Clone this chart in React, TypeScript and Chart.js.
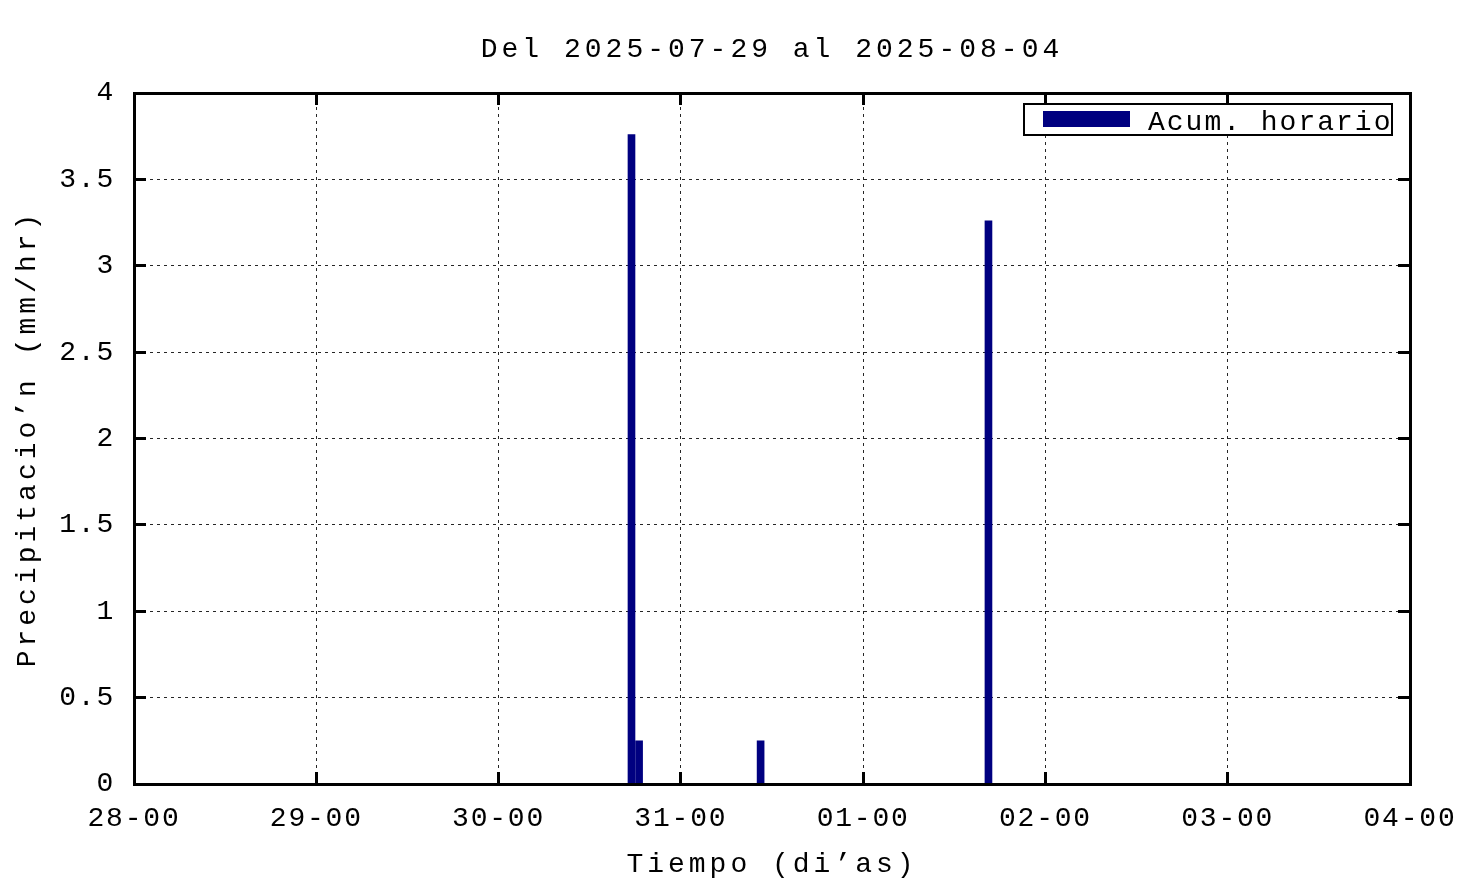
import React, { useEffect, useRef } from "react";
import { Chart, registerables } from "chart.js";

Chart.register(...registerables);

// ---- data ----
const chartTitle = "Del 2025-07-29 al 2025-08-04";
const xAxisTitle = "Tiempo (di’as)";
const yAxisTitle = "Precipitacio’n (mm/hr)";
const seriesLabel = "Acum. horario";
// hours since 28-00
const rainHours = [65.5, 66.5, 82.5, 112.5];
const rainValues = [3.76, 0.25, 0.25, 3.26];
const xTickLabels = ["28-00", "29-00", "30-00", "31-00", "01-00", "02-00", "03-00", "04-00"];
const yTickLabels = ["0", "0.5", "1", "1.5", "2", "2.5", "3", "3.5", "4"];
const xMin = 0;
const xMax = 168;
const xStep = 24;
const yMin = 0;
const yMax = 4;
const yStep = 0.5;

const FONT = "'Liberation Mono', 'DejaVu Sans Mono', monospace";
const NAVY = "#000080";

const spacingPlugin = {
  id: "gnuSpacing",
  beforeDraw(chart: any) {
    chart.ctx.letterSpacing = "4px";
  },
  afterDatasetsDraw(chart: any) {
    chart.ctx.letterSpacing = "1.8px";
  },
  afterDraw(chart: any) {
    const ctx = chart.ctx;
    const area = chart.chartArea;
    const ds = chart.data.datasets[0];
    ctx.save();
    const bx = area.right - 386;
    const by = area.top + 11;
    const bw = 368;
    const bh = 31;
    ctx.fillStyle = "#fff";
    ctx.fillRect(bx, by, bw, bh);
    ctx.lineWidth = 2;
    ctx.strokeStyle = "#000";
    ctx.strokeRect(bx, by, bw, bh);
    ctx.fillStyle = ds.backgroundColor;
    ctx.fillRect(bx + 19, by + 7, 87, 16);
    ctx.letterSpacing = "2px";
    ctx.font = `28px ${FONT}`;
    ctx.fillStyle = "#000";
    ctx.textAlign = "left";
    ctx.textBaseline = "alphabetic";
    ctx.fillText(ds.label, bx + 124, by + 26);
    ctx.restore();
    ctx.letterSpacing = "0px";
  },
};

export default function App() {
  const ref = useRef<HTMLCanvasElement>(null);
  useEffect(() => {
    document.body.style.margin = "0";
    const canvas = ref.current;
    if (!canvas) return;
    const tickFont = { family: FONT, size: 28, weight: "normal" as const };
    const chart = new Chart(canvas, {
      type: "bar",
      data: {
        datasets: [
          {
            label: seriesLabel,
            data: rainHours.map((x, i) => ({ x, y: rainValues[i] })),
            backgroundColor: NAVY,
            borderWidth: 0,
            barThickness: 7,
            xAxisID: "x",
            yAxisID: "y",
          },
        ],
      },
      options: {
        responsive: false,
        animation: false,
        devicePixelRatio: 1,
        events: [],
        layout: { padding: { left: 0, right: 66, top: 0, bottom: 0 } },
        plugins: {
          legend: { display: false },
          tooltip: { enabled: false },
          title: {
            display: true,
            text: chartTitle,
            fullSize: false,
            color: "#000",
            font: tickFont,
            padding: { top: 32.6, bottom: 26.8 },
          },
        },
        scales: {
          x: {
            type: "linear",
            position: "bottom",
            min: xMin,
            max: xMax,
            offset: false,
            afterFit: (s: any) => {
              s.height = 101;
              s.paddingLeft = 0;
              s.paddingRight = 0;
            },
            grid: {
              offset: false,
              color: "rgba(0,0,0,0.85)",
              lineWidth: 1,
              tickLength: -12,
              tickWidth: 3,
              tickColor: "#000",
            },
            border: { display: true, color: "#000", width: 3, dash: [3, 4], z: 1 },
            ticks: {
              stepSize: xStep,
              autoSkip: false,
              maxRotation: 0,
              minRotation: 0,
              padding: 30.2,
              color: "#000",
              font: tickFont,
              z: 1,
              callback: (v: any) => xTickLabels[Math.round((Number(v) - xMin) / xStep)] ?? "",
            },
            title: {
              display: true,
              text: xAxisTitle,
              color: "#000",
              font: tickFont,
              padding: { top: 0, bottom: 3.2 },
            },
          },
          x2: {
            type: "linear",
            axis: "x",
            position: "top",
            min: xMin,
            max: xMax,
            offset: false,
            afterFit: (s: any) => {
              s.height = 0;
              s.paddingLeft = 0;
              s.paddingRight = 0;
            },
            grid: {
              offset: false,
              drawOnChartArea: false,
              tickLength: -12,
              tickWidth: 3,
              tickColor: "#000",
            },
            border: { display: true, color: "#000", width: 3, z: 1 },
            ticks: { stepSize: xStep, display: false },
          },
          y: {
            type: "linear",
            position: "left",
            min: yMin,
            max: yMax,
            afterFit: (s: any) => {
              s.width = 134;
            },
            grid: {
              color: "rgba(0,0,0,0.85)",
              lineWidth: 1,
              tickLength: -12,
              tickWidth: 3,
              tickColor: "#000",
            },
            border: { display: true, color: "#000", width: 3, dash: [3, 4], z: 1 },
            ticks: {
              stepSize: yStep,
              padding: 31,
              color: "#000",
              font: tickFont,
              z: 1,
              callback: (v: any) => yTickLabels[Math.round((Number(v) - yMin) / yStep)] ?? "",
            },
            title: {
              display: true,
              text: yAxisTitle,
              color: "#000",
              font: tickFont,
              padding: { top: 11, bottom: 0 },
            },
          },
          y2: {
            type: "linear",
            axis: "y",
            position: "right",
            min: yMin,
            max: yMax,
            afterFit: (s: any) => {
              s.width = 0;
            },
            grid: {
              drawOnChartArea: false,
              tickLength: -12,
              tickWidth: 3,
              tickColor: "#000",
            },
            border: { display: true, color: "#000", width: 3, z: 1 },
            ticks: { stepSize: yStep, display: false },
          },
        },
      } as any,
      plugins: [spacingPlugin],
    });
    return () => chart.destroy();
  }, []);
  return <canvas ref={ref} width={1476} height={885} style={{ display: "block" }} />;
}
